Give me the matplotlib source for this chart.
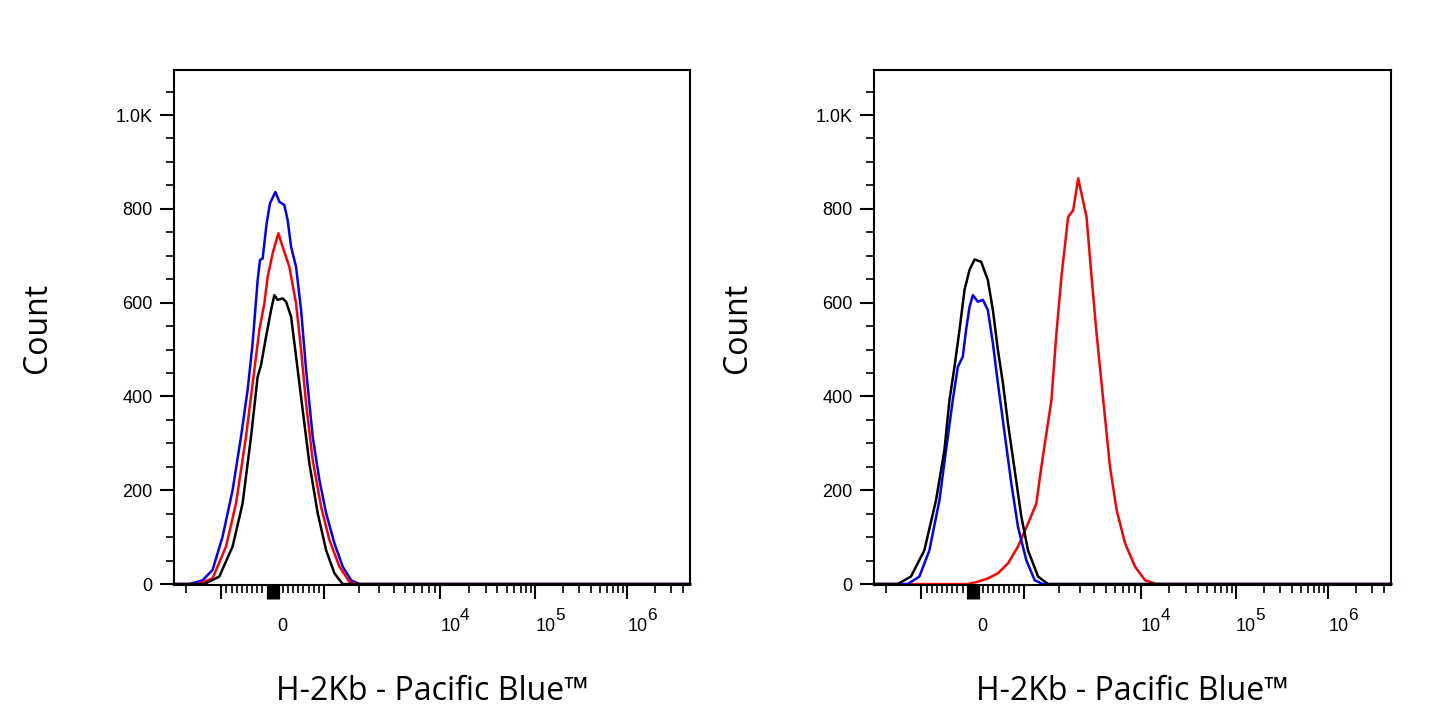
import numpy as np
import matplotlib
matplotlib.use("Agg")
import matplotlib.pyplot as plt
from matplotlib.ticker import FixedLocator, FixedFormatter, NullFormatter
from matplotlib.transforms import ScaledTranslation, blended_transform_factory

# ---------------- data ----------------
left_blue_x = [-1888, -1449, -1189, -975, -780, -616, -487, -390, -292, -246, -195, -117, -51, 53,
               131, 228, 292, 359, 456, 554, 651, 780, 910, 1043, 1229, 1449, 1713, 2019]
left_blue_y = [0, 8, 30, 101, 200, 314, 414, 513, 648, 691, 694, 769, 812, 836,
               815, 808, 776, 719, 676, 584, 456, 314, 222, 151, 87, 37, 8, 0]

left_red_x = [-1600, -1189, -908, -713, -519, -357, -259, -162, -97, 0, 111, 195, 326, 456,
              554, 651, 780, 943, 1113, 1358, 1656, 1891]
left_red_y = [0, 12, 80, 172, 314, 456, 542, 598, 655, 705, 748, 719, 676, 598,
              499, 385, 264, 165, 94, 37, 5, 0]

left_black_x = [-1401, -1040, -780, -585, -421, -292, -226, -129, -31, 33, 97, 195, 261, 359,
                456, 585, 715, 877, 1043, 1229, 1449, 1591]
left_black_y = [0, 16, 80, 172, 314, 442, 467, 527, 584, 616, 606, 609, 602, 570,
                485, 371, 257, 151, 72, 23, 0, 0]

right_black_x = [-1600, -1229, -942, -715, -552, -454, -357, -259, -162, -64, 33, 162, 292, 390,
                 487, 585, 682, 813, 942, 1076, 1313, 1600]
right_black_y = [0, 16, 72, 179, 286, 392, 463, 542, 627, 670, 692, 687, 648, 584,
                 499, 428, 343, 243, 144, 72, 16, 0]

right_blue_x = [-1313, -1040, -844, -649, -520, -390, -292, -195, -131, -64, 0, 97, 195, 292,
                390, 487, 618, 747, 877, 1040, 1229, 1449]
right_blue_y = [0, 16, 72, 179, 286, 392, 463, 485, 542, 591, 616, 602, 606, 584,
                513, 428, 321, 215, 122, 51, 8, 0]

right_red_x = [-97, 97, 292, 487, 682, 877, 1076, 1269, 1401, 1548, 1710, 1888, 2084, 2381,
               2630, 2904, 3424, 3782, 4175, 4769, 5447, 6211, 7337, 8948, 11125, 14738]
right_red_y = [0, 5, 12, 23, 44, 80, 129, 172, 250, 321, 392, 535, 655, 783,
               797, 865, 783, 655, 535, 392, 250, 158, 87, 37, 8, 0]

x_major = [-1000, 0, 1000, 1e4, 1e5, 1e6]
x_major_labels = ["", "0", "", "10", "10", "10"]
x_exponents = ["", "", "", "4", "5", "6"]
y_major = [0, 200, 400, 600, 800, 1000]
y_major_labels = ["0", "200", "400", "600", "800", "1.0K"]
x_label = "H-2Kb - Pacific Blue™"
y_label = "Count"

# ---------------- biexponential-like display scale ----------------
T = 1000.0
LIN = 51.3
LOG_DEC = np.array([3.0, 4.0, 5.0, 6.0, 8.0])
LOG_POS = LIN + np.array([0.0, 116.0, 211.0, 303.0, 487.0])


def fwd(x):
    x = np.asarray(x, dtype=float)
    a = np.abs(x)
    s = np.sign(x)
    lg = np.log10(np.maximum(a, T))
    p = np.where(a <= T, a * LIN / T, np.interp(lg, LOG_DEC, LOG_POS))
    return s * p


def inv(p):
    p = np.asarray(p, dtype=float)
    a = np.abs(p)
    s = np.sign(p)
    lg = np.interp(np.maximum(a, LIN), LOG_POS, LOG_DEC)
    x = np.where(a <= LIN, a * T / LIN, 10.0 ** lg)
    return s * x


XMIN, XMAX = -2553.0, 4.78e6
YMIN, YMAX = -2.0, 1096.0

x_minor = ([-2000] + [v for v in range(-900, 1000, 100) if v != 0]
           + [m * 10 ** e for e in (3, 4, 5, 6) for m in range(2, 10) if m * 10 ** e < XMAX])
y_minor = [v for v in range(50, 1100, 50) if v % 200 != 0]

fig = plt.figure(figsize=(14.45, 7.23), dpi=100)
W, H = 1445.0, 723.0
ax_l = fig.add_axes([174 / W, 1 - 585 / H, 516 / W, 515 / H])
ax_r = fig.add_axes([874 / W, 1 - 585 / H, 517 / W, 515 / H])

TICK_FAMILY, TICK_SIZE = "Liberation Sans", 13
LABEL_FAMILY, LABEL_SIZE = "Open Sans", 23
PX = 1 / 100.0  # one pixel in inches


def style(ax):
    ax.set_xscale("function", functions=(fwd, inv))
    ax.set_xlim(XMIN, XMAX)
    ax.set_ylim(YMIN, YMAX)
    for sp in ax.spines.values():
        sp.set_linewidth(1.5)
    ax.xaxis.set_major_locator(FixedLocator(x_major))
    ax.xaxis.set_major_formatter(FixedFormatter(x_major_labels))
    ax.xaxis.set_minor_locator(FixedLocator(x_minor))
    ax.xaxis.set_minor_formatter(NullFormatter())
    ax.yaxis.set_major_locator(FixedLocator(y_major))
    ax.yaxis.set_major_formatter(FixedFormatter(y_major_labels))
    ax.yaxis.set_minor_locator(FixedLocator(y_minor))
    ax.yaxis.set_minor_formatter(NullFormatter())
    ax.tick_params(which="major", direction="out", length=10, width=1.5, color="black")
    ax.tick_params(which="minor", direction="out", length=5.5, width=1.2, color="black")
    ax.tick_params(axis="x", which="major", pad=23)
    ax.tick_params(axis="y", which="major", pad=5.5)
    for lbl in ax.get_yticklabels():
        lbl.set_fontfamily(TICK_FAMILY)
        lbl.set_fontsize(TICK_SIZE)
    ticks = ax.xaxis.get_major_ticks()
    for tk, txt in zip(ticks, x_major_labels):
        lbl = tk.label1
        lbl.set_fontfamily(TICK_FAMILY)
        lbl.set_fontsize(TICK_SIZE)
        lbl.set_horizontalalignment("left")
        lbl.set_verticalalignment("baseline")
        dx = 4.3 if txt == "0" else 0.0
        lbl.set_transform(lbl.get_transform() + ScaledTranslation(dx * PX, 0, fig.dpi_scale_trans))
    ticks[1].tick1line.set_markeredgewidth(9.5)
    # superscript exponents of the decade labels
    btr = blended_transform_factory(ax.transData, ax.transAxes)
    for v, ex in zip(x_major, x_exponents):
        if ex:
            ax.text(v, 0, ex, transform=btr + ScaledTranslation(19.5 * PX, -35 * PX, fig.dpi_scale_trans),
                    ha="left", va="baseline", fontfamily=TICK_FAMILY, fontsize=TICK_SIZE * 0.95,
                    clip_on=False)
    ax.set_xlabel(x_label, fontfamily=LABEL_FAMILY, fontsize=LABEL_SIZE, va="baseline")
    ax.xaxis.set_label_coords(0.5, -(700 - 585) / 515)
    ax.set_ylabel(y_label, fontfamily=LABEL_FAMILY, fontsize=LABEL_SIZE, va="center", ha="center")
    ax.yaxis.set_label_coords(-0.264, 0.5)


def plot_series(ax, xs, ys, color):
    x = np.r_[XMIN, xs, XMAX]
    y = np.r_[0, ys, 0]
    ax.plot(x, y, color=color, lw=1.8, clip_on=False, solid_joinstyle="round")


style(ax_l)
style(ax_r)

plot_series(ax_l, left_blue_x, left_blue_y, "#0000ff")
plot_series(ax_l, left_red_x, left_red_y, "#ff0000")
plot_series(ax_l, left_black_x, left_black_y, "#000000")

plot_series(ax_r, right_red_x, right_red_y, "#ff0000")
plot_series(ax_r, right_blue_x, right_blue_y, "#0000ff")
plot_series(ax_r, right_black_x, right_black_y, "#000000")

fig.savefig("out.png", dpi=100, facecolor="white")
